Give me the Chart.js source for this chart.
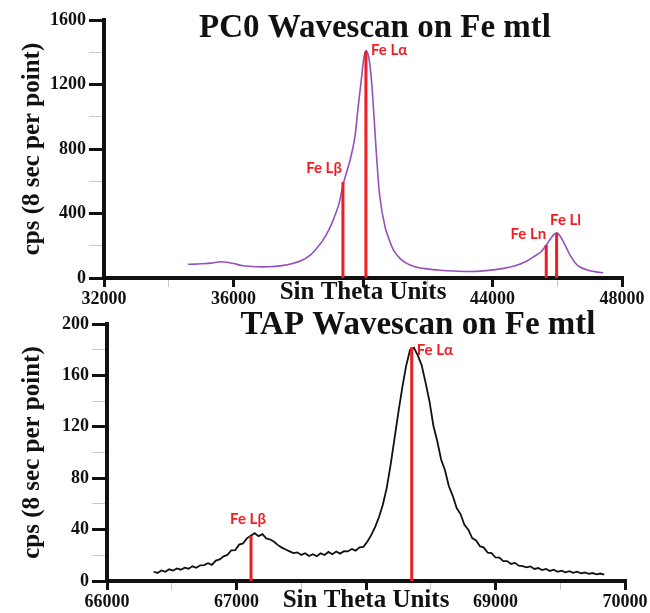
<!DOCTYPE html>
<html>
<head>
<meta charset="utf-8">
<script src="https://cdn.jsdelivr.net/npm/chart.js@4.4.0/dist/chart.umd.min.js"></script>
<style>
  html, body { margin: 0; padding: 0; background: #fff; }
  #wrap { position: relative; width: 650px; height: 613px; }
  .panel { position: absolute; left: 0; }
</style>
</head>
<body>
<div id="wrap">
  <div class="panel" style="top:0"><canvas id="pc0" width="650" height="305"></canvas></div>
  <div class="panel" style="top:305px"><canvas id="tap" width="650" height="308"></canvas></div>
</div>
<script>
// PC0 scan (top panel)
const pcScanPos = [34600,34800,35000,35300,35600,35800,36000,36300,36700,37100,37500,37800,38100,38350,38550,
  38750,38950,39100,39250,39400,39600,39750,39850,39960,40030,40100,40190,40270,40340,40420,40520,40680,40850,
  40950,41150,41350,41600,41900,42300,42800,43300,43800,44300,44700,45050,45300,45500,45660,45800,45900,45990,
  46080,46150,46300,46400,46550,46700,46950,47200,47420];
const pcCounts = [85,86,88,92,101,98,90,76,70,70,77,88,108,138,180,
  230,300,370,455,590,730,875,1060,1250,1370,1410,1355,1205,1000,752,504,318,215,
  170,120,91,70,58,50,43,40,46,58,76,104,135,163,205,245,270,280,
  262,240,180,140,95,68,48,38,33];
const pcLineNames = ['Fe Lβ', 'Fe Lα', 'Fe Ln', 'Fe Ll'];
const pcLinePos = [39380, 40090, 45660, 45980];
const pcLineTop = [595, 1405, 205, 278];
const pcXLabels = [32000, 36000, 44000, 48000];
const pcYLabels = [0, 400, 800, 1200, 1600];

// TAP scan (bottom panel)
const tapScanPos = [66360,66390,66420,66450,66480,66510,66540,66570,66600,66630,
  66660,66690,66720,66750,66780,66810,66840,66870,66900,66930,
  66960,66990,67020,67050,67080,67110,67140,67170,67200,67230,
  67260,67290,67320,67350,67380,67410,67440,67470,67500,67530,
  67560,67590,67620,67650,67680,67710,67740,67770,67800,67830,
  67860,67890,67920,67950,67980,68010,68040,68070,68100,68130,
  68160,68190,68220,68250,68280,68310,68340,68370,68400,68430,
  68460,68490,68520,68550,68580,68610,68640,68670,68700,68730,
  68760,68790,68820,68850,68880,68910,68940,68970,69000,69030,
  69060,69090,69120,69150,69180,69210,69240,69270,69300,69330,
  69360,69390,69420,69450,69480,69510,69540,69570,69600,69630,
  69660,69690,69720,69750,69780,69810,69840];
const tapCounts = [7.2,6.3,8.2,7.2,9.1,8.1,9.8,8.8,10.4,9.6,
  11.4,10.3,12.2,12.4,13.8,12.5,15.9,16.8,19.2,20.3,
  23.9,24.0,28.3,29.2,33.2,35.3,37.2,34.9,36.4,33.1,
  32.3,30.5,27.9,26.0,24.5,23.1,21.7,22.3,20.3,21.6,
  19.5,20.9,19.3,21.5,20.2,22.6,20.8,22.9,21.3,23.2,
  23.0,24.9,23.6,26.2,26.6,30.5,35.7,42.0,49.6,59.3,
  72.5,90.4,110.8,131.2,150.5,167.4,179.8,181.5,175.6,167.8,
  154.4,139.9,121.0,108.9,94.6,86.2,73.7,66.3,56.8,52.1,
  43.8,39.9,33.4,31.6,27.1,26.0,22.0,21.7,18.3,18.2,
  15.5,15.5,13.3,14.1,11.9,11.6,10.6,11.4,9.4,10.1,
  8.5,9.4,7.8,8.8,7.2,8.1,6.8,7.7,6.3,7.2,
  5.9,6.6,5.5,6.2,5.2,5.8,5.0];
const tapLineNames = ['Fe Lβ', 'Fe Lα'];
const tapLinePos = [67112, 68353];
const tapLineTop = [35, 182];
const tapXLabels = [66000, 67000, 69000, 70000];
const tapYLabels = [0, 40, 80, 120, 160, 200];

const RED = '#f01e23';
const INK = '#111';
const SERIF = "'Liberation Serif', 'Times New Roman', serif";

// label placement next to each red line
const pcPlace = [
  {align: 'right', dx: -1, dy: -14},
  {align: 'left', dx: 5, dy: -1},
  {align: 'right', dx: 0, dy: -11},
  {align: 'center', dx: 9, dy: -13}
];
const tapPlace = [
  {align: 'center', dx: -3, dy: -17},
  {align: 'left', dx: 5, dy: 3}
];

const panelText = {
  id: 'panelText',
  afterDatasetsDraw(chart, args, opts) {
    const ctx = chart.ctx;
    const xs = chart.scales.x, ys = chart.scales.y;
    ctx.save();
    ctx.textBaseline = 'middle';
    ctx.font = 'bold 33px ' + SERIF;
    ctx.fillStyle = INK;
    ctx.textAlign = 'center';
    ctx.fillText(opts.title, opts.titleX, opts.titleY);
    ctx.font = "bold 15px Lato, 'Open Sans', sans-serif";
    ctx.fillStyle = RED;
    opts.names.forEach((name, i) => {
      const p = opts.place[i];
      ctx.textAlign = p.align;
      ctx.fillText(name, xs.getPixelForValue(opts.pos[i]) + p.dx, ys.getPixelForValue(opts.top[i]) + p.dy);
    });
    ctx.restore();
  }
};

function peakLines(pos, top) {
  return pos.map((p, i) => ({
    data: [{x: p, y: 0}, {x: p, y: top[i]}],
    borderColor: RED,
    borderWidth: 3,
    pointRadius: 0,
    order: 0
  }));
}

function makeChart(id, o) {
  const isMajorX = v => (v - o.xMin) % o.xMajor === 0;
  const isMajorY = v => v % o.yMajor === 0;
  return new Chart(document.getElementById(id), {
    type: 'line',
    data: {
      datasets: [{
        data: o.xs.map((x, i) => ({x: x, y: o.ys[i]})),
        borderColor: o.color,
        borderWidth: o.width,
        pointRadius: 0,
        tension: o.tension,
        order: 1
      }].concat(peakLines(o.linePos, o.lineTop))
    },
    options: {
      responsive: false,
      animation: false,
      layout: { padding: { top: o.padTop, right: o.padRight, left: 0, bottom: 0 } },
      plugins: {
        legend: { display: false },
        tooltip: { enabled: false },
        panelText: {
          title: o.title, titleX: o.titleX, titleY: o.titleY,
          names: o.lineNames, pos: o.linePos, top: o.lineTop, place: o.place
        }
      },
      scales: {
        x: {
          type: 'linear',
          min: o.xMin,
          max: o.xMax,
          afterFit: s => { s.height = o.xHeight; },
          ticks: {
            stepSize: o.xMajor / 2,
            autoSkip: false,
            maxRotation: 0,
            padding: 2,
            color: INK,
            font: { family: SERIF, size: 18, weight: 'bold' },
            callback: v => o.xLabels.includes(v) ? String(v) : ''
          },
          grid: {
            drawOnChartArea: false,
            tickLength: 9,
            color: c => (c.tick && isMajorX(c.tick.value)) ? INK : '#c8c8c8',
            lineWidth: c => (c.tick && isMajorX(c.tick.value)) ? 3 : 1
          },
          border: { color: INK, width: 4 },
          title: {
            display: true,
            text: 'Sin Theta Units',
            color: INK,
            font: { family: SERIF, size: 25, weight: 'bold', lineHeight: 1 },
            padding: { top: 0, bottom: 0 }
          }
        },
        y: {
          min: 0,
          max: o.yMax,
          afterFit: s => { s.width = o.yWidth; },
          ticks: {
            stepSize: o.yMajor / 2,
            padding: 3,
            color: INK,
            font: { family: SERIF, size: 18, weight: 'bold' },
            callback: v => o.yLabels.includes(v) ? String(v) : ''
          },
          grid: {
            drawOnChartArea: false,
            tickLength: 15,
            color: c => (c.tick && isMajorY(c.tick.value)) ? INK : '#c8c8c8',
            lineWidth: c => (c.tick && isMajorY(c.tick.value)) ? 3 : 1
          },
          border: { color: INK, width: 4 },
          title: {
            display: true,
            text: 'cps (8 sec per point)',
            color: INK,
            font: { family: SERIF, size: 25, weight: 'bold' },
            padding: { top: 18, bottom: 0 }
          }
        }
      }
    },
    plugins: [panelText]
  });
}

makeChart('pc0', {
  xs: pcScanPos, ys: pcCounts, color: '#9550bd', width: 1.6, tension: 0.3,
  linePos: pcLinePos, lineTop: pcLineTop, lineNames: pcLineNames, place: pcPlace,
  xLabels: pcXLabels, yLabels: pcYLabels,
  xMin: 32000, xMax: 48000, xMajor: 4000, yMax: 1600, yMajor: 400,
  title: 'PC0 Wavescan on Fe mtl', titleX: 375, titleY: 28,
  padTop: 20, padRight: 28, xHeight: 27, yWidth: 104
});

makeChart('tap', {
  xs: tapScanPos, ys: tapCounts, color: '#111', width: 1.8, tension: 0,
  linePos: tapLinePos, lineTop: tapLineTop, lineNames: tapLineNames, place: tapPlace,
  xLabels: tapXLabels, yLabels: tapYLabels,
  xMin: 66000, xMax: 70000, xMajor: 1000, yMax: 200, yMajor: 40,
  title: 'TAP Wavescan on Fe mtl', titleX: 418, titleY: 20,
  padTop: 19, padRight: 25, xHeight: 32, yWidth: 107
});
</script>
</body>
</html>
